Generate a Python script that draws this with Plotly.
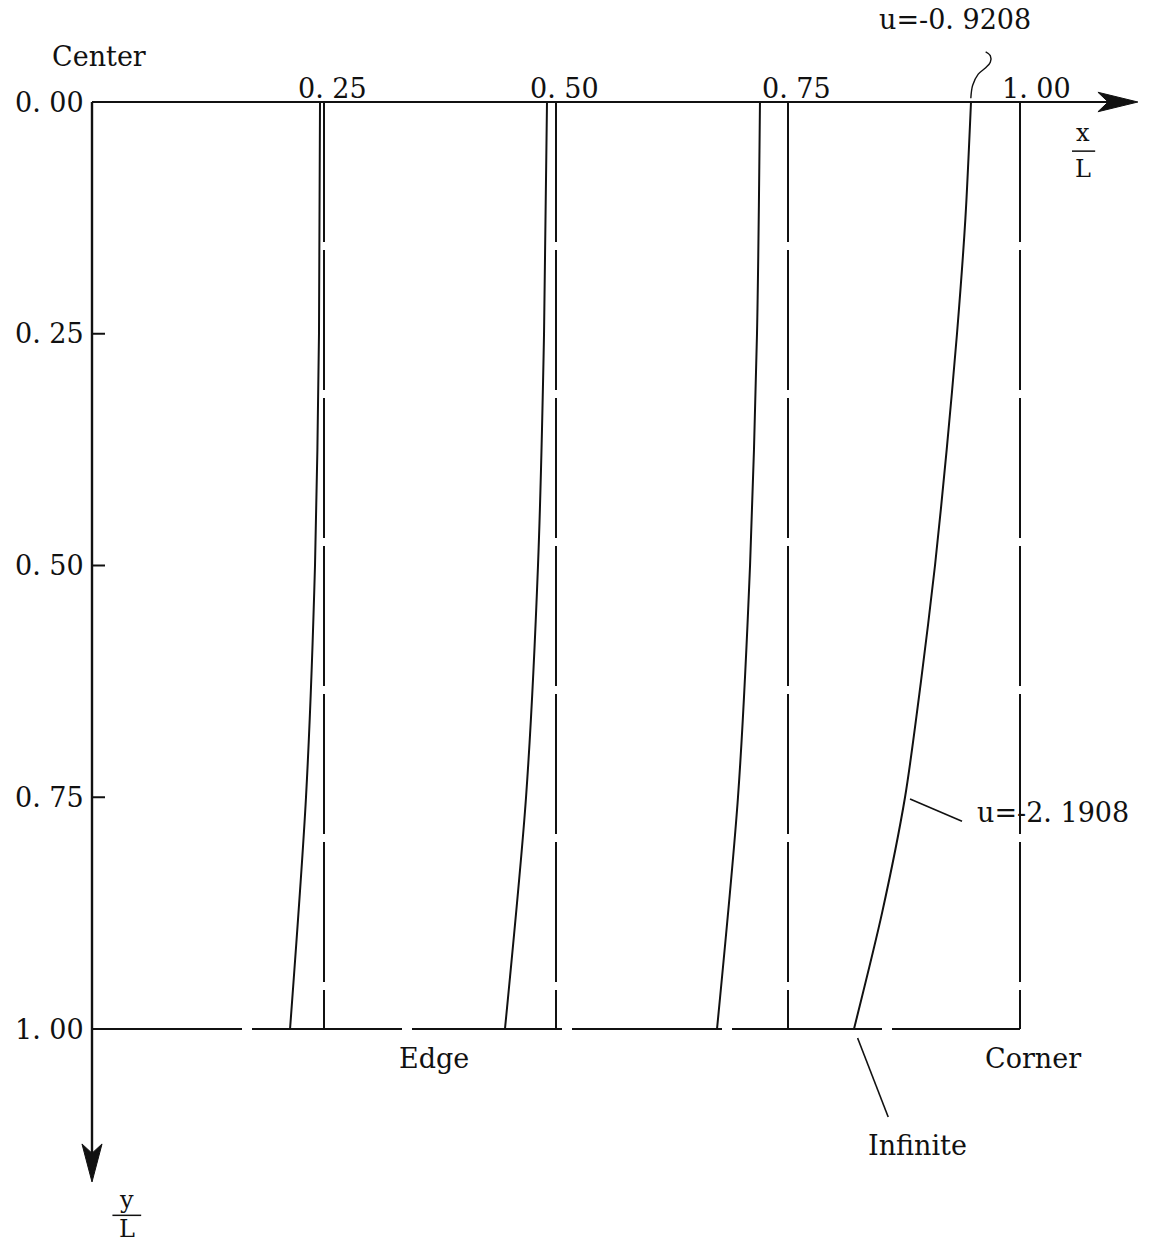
import plotly.graph_objects as go

# ---------------- data ----------------
curve_y = [0.0, 0.25, 0.5, 0.75, 1.0]
curve1_x = [0.2457, 0.2446, 0.2403, 0.2306, 0.2134]
curve2_x = [0.4903, 0.4871, 0.4806, 0.4677, 0.4450]
curve3_x = [0.7198, 0.7166, 0.7091, 0.6961, 0.6735]
curve4_y = [0.0, 0.125, 0.25, 0.375, 0.5, 0.625, 0.75, 0.875, 1.0]
curve4_x = [0.9472, 0.9412, 0.9321, 0.9210, 0.9084, 0.8933, 0.8761, 0.8513, 0.8211]

grid_x = [0.25, 0.5, 0.75, 1.0]
x_tick_vals = [0.25, 0.5, 0.75, 1.0]
x_tick_labels = ["0. 25", "0. 50", "0. 75", "1. 00"]
y_tick_vals = [0.0, 0.25, 0.5, 0.75, 1.0]
y_tick_labels = ["0. 00", "0. 25", "0. 50", "0. 75", "1. 00"]
inner_ticks_y = [0.25, 0.5, 0.75]

label_top = "u=-0. 9208"
label_mid = "u=-2. 1908"

FONT = "DejaVu Serif, Liberation Serif, serif"
INK = "#111111"

fig = go.Figure()


def seg(x, y, width=2, dash=None, shape="linear"):
    line = dict(color=INK, width=width, shape=shape)
    if dash:
        line["dash"] = dash
    fig.add_trace(go.Scatter(x=x, y=y, mode="lines", line=line,
                             hoverinfo="skip", showlegend=False))


# vertical reference lines (broken, as in the scan)
for gx in grid_x:
    seg([gx, gx], [0, 1], width=2, dash="140px,8px")
# bottom border
seg([0, 1], [1, 1], width=2, dash="150px,10px")
# main axes
seg([0, 1.10], [0, 0], width=2.2)
seg([0, 0], [0, 1.14], width=2.4)

# curves
for cx, cy in [(curve1_x, curve_y), (curve2_x, curve_y), (curve3_x, curve_y), (curve4_x, curve4_y)]:
    fig.add_trace(go.Scatter(x=cx, y=cy, mode="lines",
                             line=dict(color=INK, width=2, shape="spline", smoothing=0.8),
                             hoverinfo="skip", showlegend=False))

# inner ticks on the y axis
for ty in inner_ticks_y:
    seg([0, 0.014], [ty, ty], width=2)

# leader lines
seg([0.8815, 0.9375], [0.752, 0.776], width=1.6)
seg([0.825, 0.858], [1.0097, 1.095], width=1.6)
seg([0.947, 0.949, 0.955, 0.963, 0.968, 0.968, 0.963],
    [-0.004, -0.018, -0.030, -0.037, -0.043, -0.050, -0.054], width=1.4, shape="spline")
# fraction bars for x/L and y/L
seg([1.056, 1.081], [0.053, 0.053], width=1.5)
seg([0.022, 0.053], [1.201, 1.201], width=1.5)

# arrowheads (notched, filled)
shapes = [
    dict(type="path", xref="x", yref="y", fillcolor=INK, line=dict(color=INK, width=1),
         path="M 1.127 0 L 1.084 -0.0105 L 1.095 0 L 1.084 0.0105 Z"),
    dict(type="path", xref="x", yref="y", fillcolor=INK, line=dict(color=INK, width=1),
         path="M 0 1.165 L -0.0108 1.124 L 0 1.134 L 0.0108 1.124 Z"),
]

annotations = []
tf = dict(family=FONT, size=27, color=INK)
for v, t in zip(y_tick_vals, y_tick_labels):
    annotations.append(dict(x=0, y=v, text=t, showarrow=False, xanchor="right",
                            yanchor="middle", xshift=-6, font=tf))
for v, t in zip(x_tick_vals, x_tick_labels):
    annotations.append(dict(x=v, y=0, text=t, showarrow=False, xanchor="center",
                            yanchor="bottom", xshift=16 if v == 1.0 else 8, yshift=-4, font=tf))

sf = dict(family=FONT, size=24, color=INK)
annotations += [
    dict(x=0.0075, y=-0.0496, text="Center", showarrow=False, font=tf),
    dict(x=0.930, y=-0.0885, text=label_top, showarrow=False, font=tf),
    dict(x=1.036, y=0.766, text=label_mid, showarrow=False, font=tf),
    dict(x=0.3685, y=1.032, text="Edge", showarrow=False, font=tf),
    dict(x=1.014, y=1.032, text="Corner", showarrow=False, font=tf),
    dict(x=0.890, y=1.126, text="Infinite", showarrow=False, font=tf),
    dict(x=1.068, y=0.033, text="x", showarrow=False, font=sf),
    dict(x=1.068, y=0.072, text="L", showarrow=False, font=sf),
    dict(x=0.0375, y=1.184, text="y", showarrow=False, font=sf),
    dict(x=0.0375, y=1.2155, text="L", showarrow=False, font=sf),
]

fig.update_layout(
    width=1151, height=1245,
    margin=dict(l=0, r=0, t=0, b=0, pad=0),
    paper_bgcolor="white", plot_bgcolor="white",
    xaxis=dict(range=[-92 / 928, (1151 - 92) / 928], visible=False, fixedrange=True),
    yaxis=dict(range=[(1245 - 102) / 927, -102 / 927], visible=False, fixedrange=True),
    annotations=annotations,
    shapes=shapes,
    showlegend=False,
)

fig.write_html("out.html", config={"displayModeBar": False},
               post_script="document.body.style.margin='0';document.body.style.overflow='hidden';")
